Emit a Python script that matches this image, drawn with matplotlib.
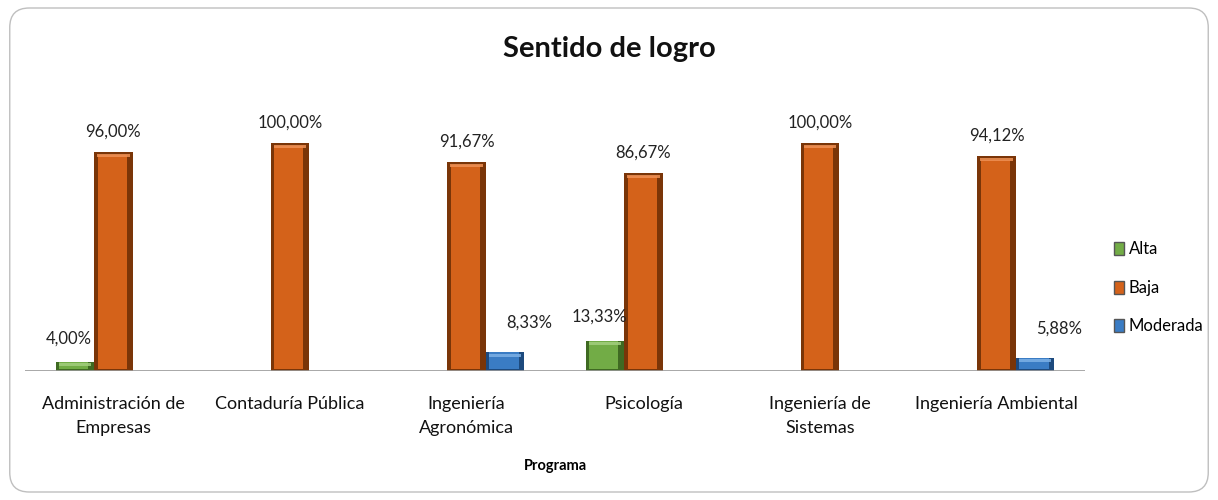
import matplotlib
matplotlib.use("Agg")
import matplotlib.pyplot as plt
import numpy as np
from matplotlib.patches import FancyBboxPatch
from matplotlib.transforms import offset_copy

categories = ["Administración de\nEmpresas", "Contaduría Pública", "Ingeniería\nAgronómica",
              "Psicología", "Ingeniería de\nSistemas", "Ingeniería Ambiental"]
series_names = ["Alta", "Baja", "Moderada"]
alta = [4.00, 0, 0, 13.33, 0, 0]
baja = [96.00, 100.00, 91.67, 86.67, 100.00, 94.12]
moderada = [0, 0, 8.33, 0, 0, 5.88]
values = [alta, baja, moderada]

colors = ["#72AC46", "#D4621A", "#3A7CC4"]
dark = ["#3F6A22", "#7A3508", "#1D4A7E"]
light = ["#A3CF7E", "#EE9155", "#7DB1E6"]
label_dx = [-4, 0, 17]     # points offsets for data labels
label_dy = [17, 15, 21]

plt.rcParams['font.family'] = ['Lato', 'DejaVu Sans']

fig = plt.figure(figsize=(12.18, 5.0), dpi=100)
border = FancyBboxPatch((0.008, 0.016), 0.984, 0.968, boxstyle="round,pad=0,rounding_size=0.016",
                        transform=fig.transFigure, facecolor="white", edgecolor="#BFBFBF", lw=1.0,
                        mutation_aspect=12.18/5.0, zorder=-10)
fig.patches.append(border)

ax = fig.add_axes([25/1218, 1-371/500, 1060/1218, 0.54])
ax.set_zorder(2)
ax.patch.set_visible(False)
ax.set_xlim(-0.5, len(categories) - 0.5)
ax.set_ylim(0, 0.54*500/228*100)

x = np.arange(len(categories))
w = 0.218
for i, (name, vals) in enumerate(zip(series_names, values)):
    pos = x + (i - 1) * w
    v = np.array(vals)
    nz = (v > 0)
    # base bar (dark edges)
    ax.bar(pos, v, width=w, color=dark[i], edgecolor="none", zorder=2, label=name)
    # inner face
    ax.bar(pos - w*0.03, v*0.985 - nz*0.7, bottom=nz*0.7, width=w*0.76,
           color=colors[i], edgecolor="none", zorder=3)
    # top highlight
    ax.bar(pos, nz*1.3, bottom=v - 2.0*nz, width=w*0.84,
           color=light[i], edgecolor="none", zorder=4, alpha=0.85)
    for xx, vv in zip(pos, vals):
        if vv > 0:
            tr = offset_copy(ax.transData, fig=fig, x=label_dx[i], y=label_dy[i], units="points")
            ax.text(xx, vv, f"{vv:.2f}".replace(".", ",") + "%", transform=tr,
                    ha="center", va="center", fontsize=12, color="#222222")

ax.axhline(0, color="#9A9A9A", lw=1.2, zorder=5)
for s in ax.spines.values():
    s.set_visible(False)
ax.set_yticks([])
ax.set_xticks(x)
ax.set_xticklabels(categories, fontsize=13, color="#111111", linespacing=1.6)
ax.tick_params(axis="x", length=0, pad=18)
ax.set_xlabel("Programa", fontsize=10.5, fontweight="bold", labelpad=17)

fig.text(0.5, 0.903, "Sentido de logro", ha="center", va="center", fontsize=21, fontweight="bold",
         color="#111111")

handles, labels = ax.get_legend_handles_labels()
leg = fig.legend(handles, labels, loc="center left", bbox_to_anchor=(1099/1218, 1-288/500),
                 frameon=False, fontsize=12, handlelength=0.6, handleheight=0.8,
                 handletextpad=0.3, labelspacing=1.35)
for h, c in zip(leg.legend_handles, colors):
    h.set_facecolor(c)
    h.set_edgecolor("#555555")

fig.savefig("out.png", dpi=100, facecolor="white")
